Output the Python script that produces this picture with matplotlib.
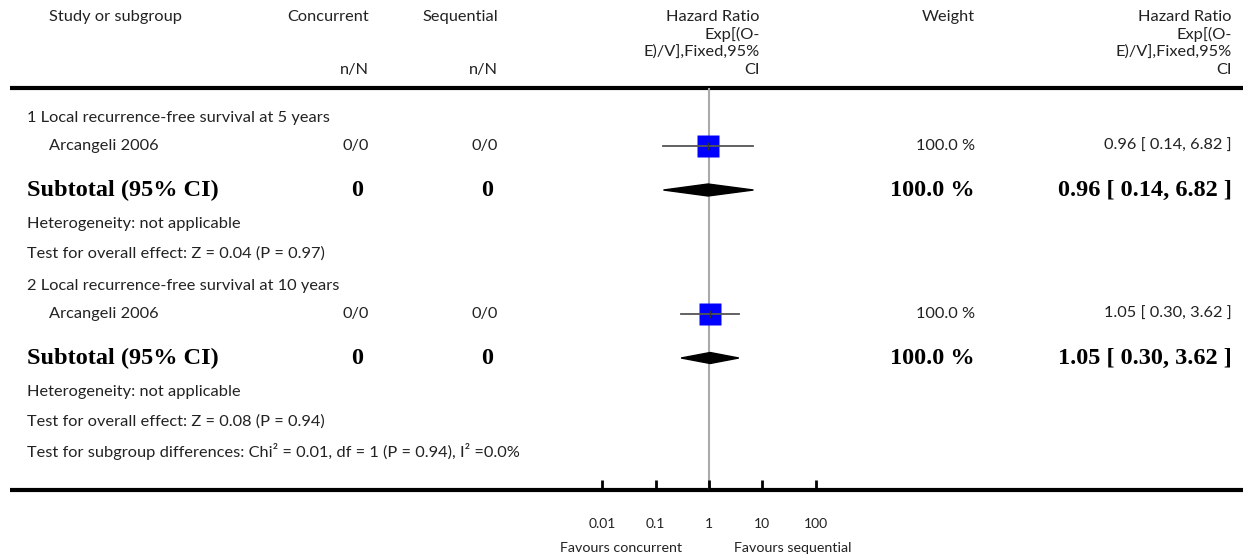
# Forest plot: concurrent vs sequential, local recurrence-free survival
import matplotlib
matplotlib.use("Agg")
import matplotlib.pyplot as plt
from matplotlib.patches import Polygon
from matplotlib.ticker import NullLocator

plt.rcParams['font.family'] = ['Lato', 'DejaVu Sans']

# Data
groups = ['1 Local recurrence-free survival at 5 years',
          '2 Local recurrence-free survival at 10 years']
studies = ['Arcangeli 2006', 'Arcangeli 2006']
conc_nN = ['0/0', '0/0']
seq_nN = ['0/0', '0/0']
hr = [0.96, 1.05]
hr_lo = [0.14, 0.30]
hr_hi = [6.82, 3.62]
weights = ['100.0 %', '100.0 %']
sub_conc = ['0', '0']
sub_seq = ['0', '0']
sub_weights = ['100.0 %', '100.0 %']
sub_hr = [0.96, 1.05]
sub_lo = [0.14, 0.30]
sub_hi = [6.82, 3.62]
heterogeneity = ['Heterogeneity: not applicable', 'Heterogeneity: not applicable']
overall = ['Test for overall effect: Z = 0.04 (P = 0.97)',
           'Test for overall effect: Z = 0.08 (P = 0.94)']
subgroup_test = 'Test for subgroup differences: Chi\u00b2 = 0.01, df = 1 (P = 0.94), I\u00b2 =0.0%'
ticks = [0.01, 0.1, 1, 10, 100]
tick_labels = ['0.01', '0.1', '1', '10', '100']

txt_col = '#222222'
fs = 11.8
fs_bold = 17.5

fig = plt.figure(figsize=(12.5, 5.59), dpi=100)

# background axes in pixel units for the table text
bg = fig.add_axes([0, 0, 1, 1])
bg.set_xlim(0, 1250)
bg.set_ylim(559, 0)
bg.axis('off')

# forest axes, log scale
fa = fig.add_axes([549 / 1250, (559 - 490) / 559, 320 / 1250, (490 - 88) / 559])
fa.set_xscale('log')
fa.set_xlim(1e-3, 1e3)
fa.set_ylim(490, 88)
fa.patch.set_visible(False)
for s in fa.spines.values():
    s.set_visible(False)
fa.set_yticks([])
fa.set_xticks(ticks)
fa.set_xticklabels(tick_labels)
fa.xaxis.set_minor_locator(NullLocator())
fa.tick_params(axis='x', direction='in', length=7, width=2, pad=20,
               labelsize=10, labelcolor=txt_col, color='black')


def txt(x, y, s, ha='left', bold=False, size=None):
    if bold:
        bg.text(x, y, s, ha=ha, va='center', fontsize=fs_bold, fontweight='bold',
                family=['Liberation Serif', 'DejaVu Serif'], color='black')
    else:
        bg.text(x, y, s, ha=ha, va='center', fontsize=size or fs, color=txt_col)


# column x positions (right edges mostly)
x_label = 27
x_study = 49
x_conc = 369
x_seq = 498
x_hrhead = 760
x_wt = 975
x_hr = 1232

# header
txt(x_study, 17, 'Study or subgroup')
txt(x_conc, 17, 'Concurrent', 'right')
txt(x_conc, 70, 'n/N', 'right')
txt(x_seq, 17, 'Sequential', 'right')
txt(x_seq, 70, 'n/N', 'right')
for x in (x_hrhead, x_hr):
    for yy, line in zip([17, 34, 52, 70], ['Hazard Ratio', 'Exp[(O-', 'E)/V],Fixed,95%', 'CI']):
        txt(x, yy, line, 'right')
txt(x_wt, 17, 'Weight', 'right')

bg.plot([10, 1243], [88, 88], color='black', lw=3, solid_capstyle='butt')
bg.plot([10, 1243], [490, 490], color='black', lw=3, solid_capstyle='butt')

fa.axvline(1, color='#aaaaaa', lw=1.5, zorder=0)

group_top = [118, 286]
for i in range(2):
    y0 = group_top[i]
    y_st = y0 + 28
    y_sub = y0 + 72
    txt(x_label, y0, groups[i])
    txt(x_study, y_st, studies[i])
    txt(x_conc, y_st, conc_nN[i], 'right')
    txt(x_seq, y_st, seq_nN[i], 'right')
    txt(x_wt, y_st, weights[i], 'right')
    txt(x_hr, y_st, '%.2f [ %.2f, %.2f ]' % (hr[i], hr_lo[i], hr_hi[i]), 'right')

    fa.plot(hr[i], y_st, 's', ms=16, color='#0000ff', mec='none', zorder=2)
    fa.plot([hr_lo[i], hr_hi[i]], [y_st, y_st], color='#555555', lw=1.3, zorder=3)
    fa.plot([hr[i], hr[i]], [y_st - 3, y_st + 3], color='#333333', lw=1, zorder=3)

    txt(x_label, y_sub, 'Subtotal (95% CI)', bold=True)
    txt(x_conc - 6, y_sub, sub_conc[i], 'right', bold=True)
    txt(x_seq - 5, y_sub, sub_seq[i], 'right', bold=True)
    txt(x_wt, y_sub, sub_weights[i], 'right', bold=True)
    txt(x_hr, y_sub, '%.2f [ %.2f, %.2f ]' % (sub_hr[i], sub_lo[i], sub_hi[i]), 'right', bold=True)
    h = 6 if i == 0 else 5.5
    fa.add_patch(Polygon([(sub_lo[i], y_sub), (sub_hr[i], y_sub - h),
                          (sub_hi[i], y_sub), (sub_hr[i], y_sub + h)],
                         closed=True, color='black', zorder=3))

    txt(x_label, y0 + 106, heterogeneity[i])
    txt(x_label, y0 + 136, overall[i])

txt(x_label, 451, subgroup_test)

txt(621, 548, 'Favours concurrent', 'center', size=10.3)
txt(793, 548, 'Favours sequential', 'center', size=10.3)

fig.savefig('out.png', dpi=100)
